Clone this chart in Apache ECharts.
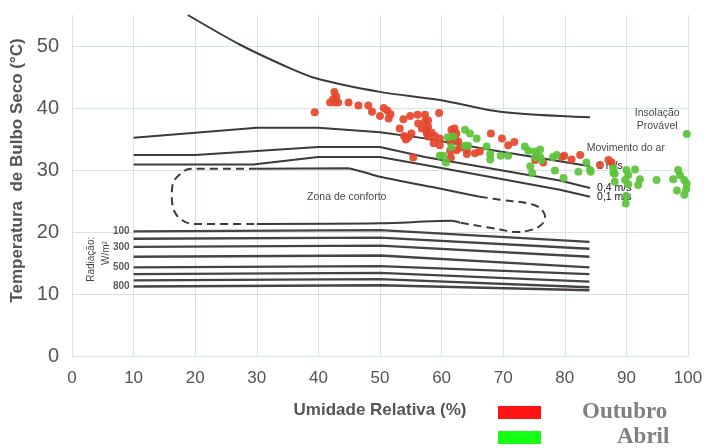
<!DOCTYPE html>
<html>
<head>
<meta charset="utf-8">
<script src="https://cdn.jsdelivr.net/npm/echarts@6/dist/echarts.min.js"></script>
<style>
  html, body { margin: 0; background: #fff; }
  #chart { width: 710px; height: 448px; }
</style>
</head>
<body>
<div id="chart"></div>
<script>
// limite superior (linha de cima)
const curveTop = [[18.8, 55], [27.3, 50.2], [34.3, 46.9], [39.6, 44.8], [50, 42.6], [59.7, 41.3], [69.5, 39.4], [84.1, 38.5]];
// movimento do ar
const air1 = [[10, 35.2], [30, 36.8], [40, 36.8], [50, 36.1], [57.3, 35.1], [69.5, 33.0], [84.1, 30.6]];
const air04 = [[10, 32.4], [20, 32.4], [40, 33.7], [50, 33.7], [57.3, 32.1], [79.2, 28.3], [84.1, 27.1]];
const air01 = [[10, 30.9], [29.4, 30.9], [40, 32.1], [50, 32.1], [57.3, 30.8], [79.2, 26.8], [84.1, 25.7]];
const airLabels = ['1 m/s', '0,4 m/s', '0,1 m/s'];

// zona de conforto
const comfortDashLeft = [[30, 30.2], [19.4, 30.2], [18.3, 29.9], [16.4, 27.9], [16.2, 25.7], [17.0, 22.7], [19.7, 21.3], [30, 21.3]];
const comfortSolidTop = [[30, 30.2], [44.6, 30.3], [50, 28.9], [59.7, 27.0], [66.2, 25.7]];
const comfortSolidBottom = [[30, 21.3], [50, 21.4], [61.6, 21.8], [63, 21.5]];
const comfortDashRight = [[66.2, 25.7], [69.5, 25.2], [74.9, 24.4], [76.5, 23.3], [76.8, 22.2], [76.0, 21.0], [74.4, 20.3], [72.2, 20.0], [69.5, 20.4], [63, 21.5]];

// radiação (W/m2)
const radX = [10, 50, 84];
const radLeft = [20.1, 18.9, 17.6, 16.0, 14.3, 13.2, 12.2, 11.2];
const radMid = [20.3, 19.1, 17.8, 16.2, 14.5, 13.4, 12.4, 11.4];
const radRight = [18.4, 17.3, 16.0, 14.3, 13.2, 12.0, 11.1, 10.6];
const radLabels = ['100', '', '300', '', '500', '', '', '800'];

const outubro = [
  [39.4, 39.3], [42.6, 42.6], [42.9, 41.8], [41.9, 40.9], [42.7, 40.9], [43.2, 40.9], [42.4, 41.4], [44.9, 40.9],
  [46.5, 40.4], [48.1, 40.4], [48.7, 39.4], [50.0, 38.7], [50.6, 40.0], [51.2, 39.6], [51.7, 39.0], [51.4, 38.3],
  [53.8, 38.2], [54.9, 38.7], [56.1, 38.9], [57.3, 38.9], [53.2, 36.7], [55.1, 35.9], [56.2, 37.5], [56.8, 36.7],
  [57.3, 37.8], [57.8, 37.0], [57.6, 35.9], [53.9, 35.5], [54.2, 34.9], [54.6, 35.3], [55.4, 32.0], [57.8, 35.4],
  [59.6, 39.2], [57.8, 38.0], [57.6, 36.5], [58.4, 36.0], [58.9, 35.5], [59.7, 35.1], [58.7, 34.3], [59.7, 34.0],
  [62.1, 36.7], [61.9, 35.8], [62.4, 35.9], [61.4, 34.6], [62.2, 34.9], [62.7, 34.6], [61.4, 33.1], [61.5, 32.0],
  [63.0, 33.6], [64.1, 33.2], [64.1, 32.6], [65.4, 32.7], [66.2, 33.0], [68.0, 35.9], [69.8, 35.1], [70.8, 34.0],
  [71.8, 34.5], [75.2, 31.6], [76.5, 31.2], [79.5, 32.1], [79.9, 32.3], [81.1, 31.7], [82.5, 32.4], [87.1, 31.6],
  [87.6, 31.2], [85.7, 30.8], [62.4, 33.2], [61.6, 36.5]
];
const abril = [
  [61.0, 35.3], [61.9, 35.4], [63.8, 36.5], [64.6, 35.9], [65.7, 35.1], [63.8, 33.9], [64.3, 33.9], [61.6, 33.7],
  [59.7, 32.3], [60.3, 32.3], [60.7, 31.2], [67.3, 33.8], [67.9, 32.6], [67.9, 31.7], [69.6, 32.3], [70.8, 32.3],
  [73.5, 33.8], [74.1, 33.1], [75.2, 33.0], [76.0, 33.3], [74.4, 30.6], [74.7, 29.5], [76.0, 32.1], [78.1, 32.1],
  [78.7, 32.4], [78.4, 29.9], [79.8, 28.7], [76.2, 31.6], [75.2, 32.1], [99.8, 35.8], [83.5, 31.2], [84.2, 29.7],
  [82.2, 29.7], [87.9, 30.3], [88.1, 28.1], [90.0, 30.0], [90.3, 29.2], [89.8, 28.4], [90.3, 27.7], [91.9, 27.6],
  [92.2, 28.5], [91.4, 30.1], [90.0, 25.8], [89.9, 24.6], [94.9, 28.4], [98.4, 30.0], [97.6, 28.5], [98.7, 29.2],
  [99.4, 28.4], [99.8, 27.8], [98.2, 26.7], [99.7, 26.9], [99.4, 26.0], [84.1, 30.0], [87.9, 29.5], [88.1, 29.4]
];

// textos do diagrama
const notes = [
  { name: 'Zona de conforto', value: [44.6, 25.6] },
  { name: 'Movimento do ar', value: [89.9, 33.6] },
  { name: 'Insolação\nProvável', value: [95, 38.2] },
  { name: 'Radiação:', value: [3.2, 15.6], rotate: 90 },
  { name: 'W/m²', value: [5.5, 16.6], rotate: 90 }
];

const sans = "'Liberation Sans', Arial, sans-serif";
const ink = '#3b3b3b';

function curve(data, extra) {
  return Object.assign({
    type: 'line',
    data: data,
    symbol: 'none',
    silent: true,
    z: 2,
    lineStyle: { color: ink, width: 2 },
    animation: false
  }, extra || {});
}

const series = [];
series.push(curve(curveTop, { smooth: 0.3 }));
[air1, air04, air01].forEach((d, i) => {
  series.push(curve(d, {
    endLabel: {
      show: true, formatter: airLabels[i], distance: 7,
      fontFamily: sans, fontSize: 10.5, color: '#111'
    }
  }));
});
series.push(curve(comfortDashLeft, { smooth: 0.35, lineStyle: { color: ink, width: 2, type: [8, 5] } }));
series.push(curve(comfortSolidTop, { smooth: 0.2 }));
series.push(curve(comfortSolidBottom, { smooth: 0.3 }));
series.push(curve(comfortDashRight, { smooth: 0.4, lineStyle: { color: ink, width: 2, type: [8, 5] } }));

radLeft.forEach((v, i) => {
  series.push(curve([[radX[0], v], [radX[1], radMid[i]], [radX[2], radRight[i]]], {
    lineStyle: { color: '#444', width: 2.4 }
  }));
});

// rótulos das linhas de radiação
series.push({
  type: 'scatter',
  data: radLeft.map((v, i) => ({ name: radLabels[i], value: [radX[0], v] })).filter(d => d.name),
  symbolSize: 0,
  silent: true,
  animation: false,
  label: {
    show: true, position: 'left', distance: 4, formatter: p => p.name,
    fontFamily: sans, fontSize: 10, fontWeight: 'bold', color: '#333'
  },
  z: 3
});

series.push({
  type: 'scatter',
  data: notes.map(n => ({
    name: n.name,
    value: n.value,
    label: n.rotate ? { rotate: n.rotate, fontSize: 10 } : undefined
  })),
  symbolSize: 0,
  silent: true,
  animation: false,
  label: {
    show: true, position: 'inside', formatter: p => p.name,
    fontFamily: sans, fontSize: 10.5, color: '#111', lineHeight: 13
  },
  z: 3
});

series.push({
  name: 'Outubro', type: 'scatter', data: outubro, symbolSize: 8,
  itemStyle: { color: '#e5472c', opacity: 0.92 }, z: 5, animation: false
});
series.push({
  name: 'Abril', type: 'scatter', data: abril, symbolSize: 8,
  itemStyle: { color: '#5cc23a', opacity: 0.92 }, z: 5, animation: false
});

const chart = echarts.init(document.getElementById('chart'));
chart.setOption({
  backgroundColor: '#fff',
  grid: { left: 72, right: 22, top: 15, bottom: 92 },
  xAxis: {
    type: 'value', min: 0, max: 100, interval: 10,
    name: 'Umidade Relativa (%)', nameLocation: 'middle', nameGap: 46,
    nameTextStyle: { fontSize: 17, fontWeight: 'bold', color: '#555', fontFamily: sans },
    axisLine: { show: false }, axisTick: { show: false },
    axisLabel: { fontSize: 17, color: '#555', margin: 14, fontFamily: sans },
    splitLine: { lineStyle: { color: '#d4e2ea', width: 1 } }
  },
  yAxis: {
    type: 'value', min: 0, max: 55, interval: 10,
    name: 'Temperatura  de Bulbo Seco (°C)', nameLocation: 'middle', nameGap: 40,
    nameTextStyle: {
      fontSize: 17, fontWeight: 'bold', color: '#555',
      fontFamily: sans, padding: [0, 0, 0, 30]
    },
    axisLine: { show: false }, axisTick: { show: false },
    axisLabel: { fontSize: 20, color: '#555', margin: 13, fontFamily: sans, showMaxLabel: false },
    splitLine: { showMaxLine: false, lineStyle: { color: '#d4e2ea', width: 1 } }
  },
  legend: {
    orient: 'vertical', left: 498, top: 401, height: 80, padding: 0,
    itemWidth: 43, itemHeight: 13, itemGap: 2,
    icon: 'rect',
    textStyle: {
      fontFamily: "'Liberation Serif', 'DejaVu Serif', serif", fontSize: 23,
      fontWeight: 'bold', color: '#808080', lineHeight: 23
    },
    data: [
      { name: 'Outubro', itemStyle: { color: '#ff0000' }, textStyle: { padding: [0, 0, 0, 36] } },
      { name: 'Abril', itemStyle: { color: '#00ff00' }, textStyle: { padding: [0, 0, 0, 71] } }
    ],
    selectedMode: false
  },
  series: series
});
</script>
</body>
</html>
